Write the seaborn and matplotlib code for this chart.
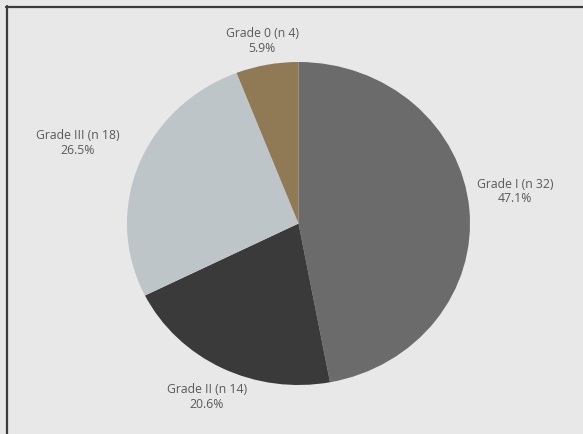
import numpy as np
import matplotlib.pyplot as plt
import seaborn as sns
from matplotlib.lines import Line2D

# Data (clockwise from 12 o'clock)
grades = ['Grade I', 'Grade II', 'Grade III', 'Grade 0']
counts = [32, 14, 18, 4]
percents = [47.1, 20.6, 26.5, 5.9]
colors = ['#6b6b6b', '#3a3a3a', '#bec5c8', '#8f7a55']
label_dist = [1.27, 1.2, 1.38, 1.15]

sns.set_theme(style='white')
plt.rcParams['font.family'] = ['Open Sans', 'DejaVu Sans']

fig = plt.figure(figsize=(5.83, 4.34), dpi=100)
fig.patch.set_facecolor('#e8e8e8')
W, H = 583, 434
ax = fig.add_axes([127 / W, 1 - 385 / H, 343 / W, 323 / H])
ax.set_facecolor('none')

wedges, _ = ax.pie(counts, colors=colors, startangle=90, counterclock=False,
                   radius=1, wedgeprops=dict(linewidth=0))
ax.set_aspect('auto')
ax.set_xlim(-1, 1)
ax.set_ylim(-1, 1)
ax.axis('off')

for w, g, n, p, d in zip(wedges, grades, counts, percents, label_dist):
    ang = np.deg2rad((w.theta1 + w.theta2) / 2)
    x, y = d * np.cos(ang), d * np.sin(ang)
    if g == 'Grade I':
        y += 0.08
    ax.text(x, y, f'{g} (n {n})\n{p:.1f}%', ha='center', va='center',
            fontsize=8.8, color='#5a5a5a', linespacing=1.15, clip_on=False)

# frame lines on top and left
fig.add_artist(Line2D([6 / W, 1], [1 - 6.5 / H, 1 - 6.5 / H], color='#3c3c3c',
                      lw=1.6, transform=fig.transFigure))
fig.add_artist(Line2D([6.5 / W, 6.5 / W], [0, 1 - 6 / H], color='#3c3c3c',
                      lw=1.6, transform=fig.transFigure))

fig.savefig('out.png', dpi=100, facecolor=fig.get_facecolor())
